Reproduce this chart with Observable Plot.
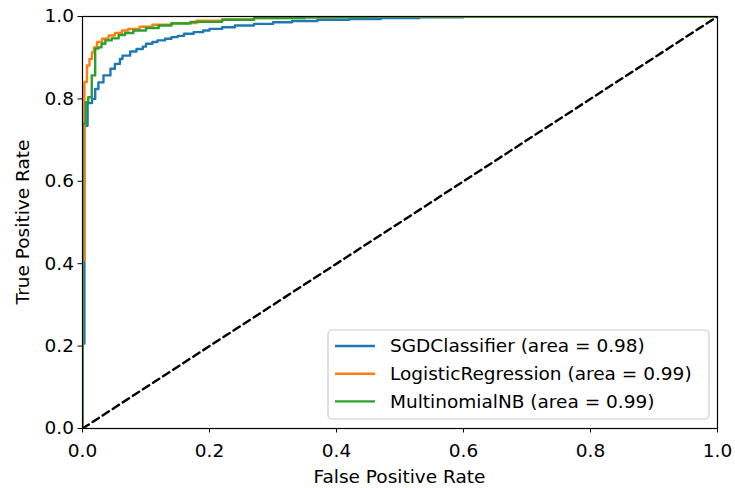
<!DOCTYPE html>
<html>
<head>
<meta charset="utf-8">
<script src="https://cdn.jsdelivr.net/npm/d3@7"></script>
<script src="https://cdn.jsdelivr.net/npm/@observablehq/plot@0.6"></script>
<style>
  html, body { margin: 0; padding: 0; background: white; }
  #chart svg { display: block; }
</style>
</head>
<body>
<div id="chart"></div>
<script>
// ---- Data ----
const seriesNames = ["SGDClassifier", "LogisticRegression", "MultinomialNB"];
const seriesAreas = ["0.98", "0.99", "0.99"];
const seriesColors = ["#1f77b4", "#ff7f0e", "#2ca02c"];

const sgdFpr = [0, 0, 0.003, 0.008, 0.015, 0.02, 0.025, 0.033, 0.044, 0.051, 0.059, 0.063, 0.075, 0.085, 0.095, 0.1, 0.11, 0.118, 0.13, 0.14, 0.15, 0.16, 0.175, 0.19, 0.2, 0.22, 0.24, 0.27, 0.3, 0.33, 0.37, 0.42, 0.47, 0.53, 0.6, 1.0];
const sgdTpr = [0, 0.206, 0.735, 0.79, 0.80, 0.824, 0.84, 0.857, 0.873, 0.885, 0.897, 0.905, 0.915, 0.921, 0.927, 0.934, 0.938, 0.942, 0.946, 0.95, 0.953, 0.958, 0.962, 0.966, 0.97, 0.974, 0.978, 0.982, 0.986, 0.989, 0.992, 0.994, 0.996, 0.998, 1.0, 1.0];

const lrFpr = [0, 0, 0.003, 0.007, 0.011, 0.015, 0.018, 0.023, 0.031, 0.041, 0.051, 0.062, 0.072, 0.09, 0.11, 0.14, 0.18, 0.22, 0.27, 0.33, 0.4, 1.0];
const lrTpr = [0, 0.41, 0.841, 0.881, 0.897, 0.913, 0.925, 0.938, 0.946, 0.954, 0.96, 0.966, 0.97, 0.975, 0.98, 0.984, 0.99, 0.993, 0.996, 0.998, 1.0, 1.0];

const nbFpr = [0, 0, 0.005, 0.009, 0.0146, 0.02, 0.025, 0.03, 0.036, 0.046, 0.057, 0.067, 0.08, 0.1, 0.12, 0.14, 0.17, 0.22, 0.27, 0.35, 0.45, 1.0];
const nbTpr = [0, 0.74, 0.792, 0.804, 0.857, 0.922, 0.925, 0.934, 0.942, 0.947, 0.955, 0.96, 0.966, 0.972, 0.978, 0.983, 0.987, 0.992, 0.996, 0.998, 1.0, 1.0];

const chanceFpr = [0, 1];
const chanceTpr = [0, 1];

const xTicks = [0, 0.2, 0.4, 0.6, 0.8, 1.0];
const yTicks = [0, 0.2, 0.4, 0.6, 0.8, 1.0];
const xLabel = "False Positive Rate";
const yLabel = "True Positive Rate";

// ---- Build tables ----
const zipPts = (xs, ys, name) => xs.map((x, i) => ({x, y: ys[i], name}));
const curves = [
  zipPts(sgdFpr, sgdTpr, seriesNames[0]),
  zipPts(lrFpr, lrTpr, seriesNames[1]),
  zipPts(nbFpr, nbTpr, seriesNames[2])
];
const chance = zipPts(chanceFpr, chanceTpr, "chance");

const W = 735, H = 488;
const FS = 18.5;
const fmt = d3.format(".1f");

const chart = Plot.plot({
  width: W,
  height: H,
  marginLeft: 82,
  marginRight: 18,
  marginTop: 16,
  marginBottom: 60,
  x: {domain: [0, 1]},
  y: {domain: [0, 1]},
  style: {fontFamily: "'DejaVu Sans', sans-serif", fontSize: FS + "px", background: "white", color: "black"},
  marks: [
    ...curves.map((c, i) => Plot.line(c, {x: "x", y: "y", curve: "step-after", stroke: seriesColors[i], strokeWidth: 2.4, clip: true})),
    Plot.line(chance, {x: "x", y: "y", stroke: "black", strokeWidth: 2.4, strokeDasharray: "7.5,4.5", clip: true}),
    Plot.frame({stroke: "black", strokeWidth: 1.2}),
    Plot.axisX({ticks: xTicks, tickFormat: fmt, tickSize: 4.5, tickPadding: 11, label: null, fontSize: FS}),
    Plot.axisY({ticks: yTicks, tickFormat: fmt, tickSize: 4.5, tickPadding: 4, label: null, fontSize: FS})
  ]
});

document.getElementById("chart").appendChild(chart);

// ---- Axis titles and legend, positioned from the plot's own scales ----
const svg = d3.select(chart);
const sx = chart.scale("x"), sy = chart.scale("y");
const x0 = sx.apply(0), x1 = sx.apply(1), y0 = sy.apply(0), y1 = sy.apply(1);

svg.append("text")
  .attr("x", (x0 + x1) / 2).attr("y", y0 + 55)
  .attr("text-anchor", "middle")
  .attr("font-family", "'DejaVu Sans', sans-serif").attr("font-size", FS).attr("fill", "black")
  .text(xLabel);

svg.append("text")
  .attr("transform", `translate(${x0 - 53},${(y0 + y1) / 2}) rotate(-90)`)
  .attr("text-anchor", "middle")
  .attr("font-family", "'DejaVu Sans', sans-serif").attr("font-size", FS).attr("fill", "black")
  .text(yLabel);

const legW = 381, legH = 89;
const legX = x1 - 8 - legW, legY = y0 - 9 - legH;
const lg = svg.append("g");
lg.append("rect")
  .attr("x", legX).attr("y", legY).attr("width", legW).attr("height", legH)
  .attr("rx", 4).attr("fill", "white").attr("fill-opacity", 0.85)
  .attr("stroke", "#cccccc").attr("stroke-width", 1.2);
seriesNames.forEach((n, i) => {
  const cy = legY + 16 + i * 27.7;
  lg.append("line")
    .attr("x1", legX + 7).attr("x2", legX + 47).attr("y1", cy).attr("y2", cy)
    .attr("stroke", seriesColors[i]).attr("stroke-width", 2.4);
  lg.append("text")
    .attr("x", legX + 62).attr("y", cy).attr("dy", "0.35em")
    .attr("text-anchor", "start")
    .attr("font-family", "'DejaVu Sans', sans-serif").attr("font-size", FS).attr("fill", "black")
    .text(`${n} (area = ${seriesAreas[i]})`);
});
</script>
</body>
</html>
